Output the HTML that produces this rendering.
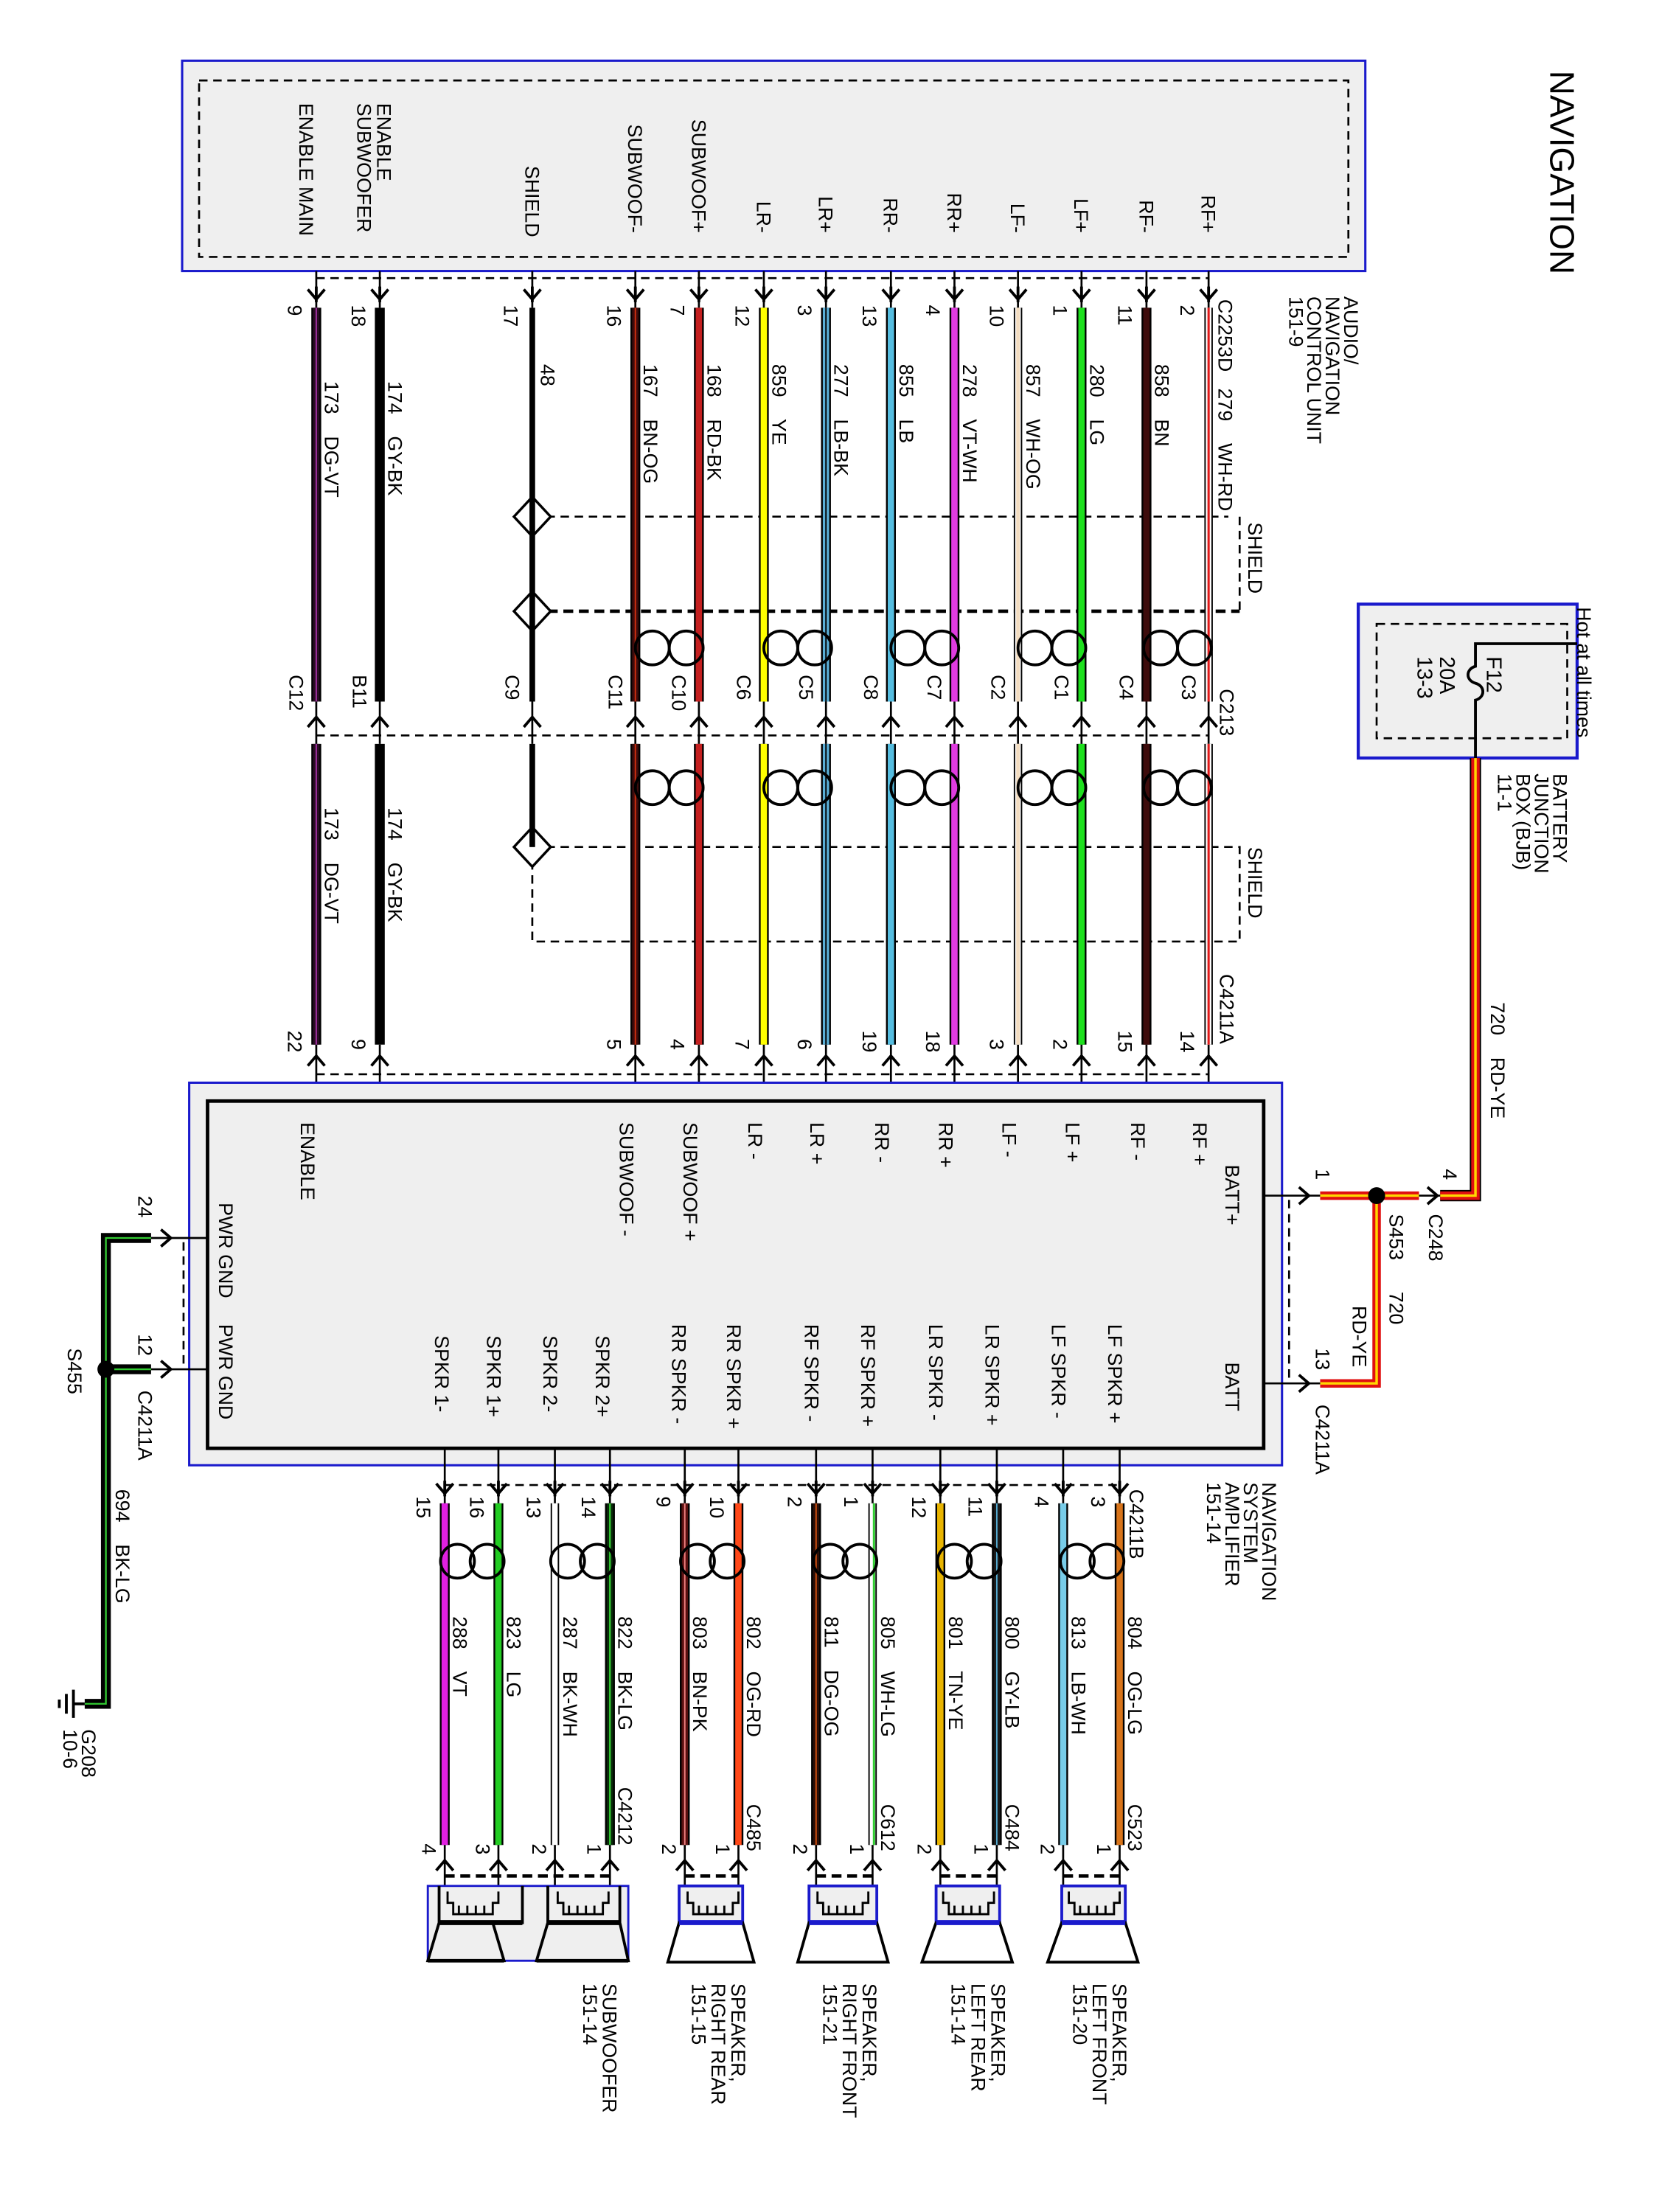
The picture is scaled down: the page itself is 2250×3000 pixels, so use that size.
<!DOCTYPE html>
<html><head><meta charset="utf-8"><style>
html,body{margin:0;padding:0;background:#fff}
svg{display:block}
text{font-family:"Liberation Sans",sans-serif;font-size:14px;fill:#000;white-space:pre}
.k{stroke:#000;stroke-width:1.4;fill:none}
.d{stroke:#000;stroke-width:1.4;fill:none;stroke-dasharray:6 4}
.dd{stroke:#000;stroke-width:2.4;fill:none;stroke-dasharray:7 4}
.c{stroke:#000;stroke-width:2;fill:none}
</style></head><body>
<svg width="2250" height="3000" viewBox="0 0 1175 1567" preserveAspectRatio="none" xmlns="http://www.w3.org/2000/svg">
<defs>
<path id="dn" d="M-6,-7 L0,0 L6,-7 M0,-9 L0,2" stroke="#000" stroke-width="2" fill="none"/>
<path id="up" d="M-6,7 L0,0 L6,7" stroke="#000" stroke-width="2" fill="none"/>
</defs>

<text transform="translate(1098,50) rotate(90)" style="font-size:24px">NAVIGATION</text>

<rect x="129" y="43" width="838" height="149" fill="#efefef" stroke="#1a1acc" stroke-width="1.6"/>
<rect x="141" y="57" width="814" height="125" class="d"/>
<g>
<text transform="translate(851,165) rotate(90)" text-anchor="end">RF+</text>
<text transform="translate(807,165) rotate(90)" text-anchor="end">RF-</text>
<text transform="translate(761,165) rotate(90)" text-anchor="end">LF+</text>
<text transform="translate(716,165) rotate(90)" text-anchor="end">LF-</text>
<text transform="translate(671,165) rotate(90)" text-anchor="end">RR+</text>
<text transform="translate(626,165) rotate(90)" text-anchor="end">RR-</text>
<text transform="translate(580,165) rotate(90)" text-anchor="end">LR+</text>
<text transform="translate(536,165) rotate(90)" text-anchor="end">LR-</text>
<text transform="translate(490,165) rotate(90)" text-anchor="end">SUBWOOF+</text>
<text transform="translate(445,165) rotate(90)" text-anchor="end">SUBWOOF-</text>
<text transform="translate(372,168) rotate(90)" text-anchor="end">SHIELD</text>
<text transform="translate(267,73) rotate(90)">ENABLE</text>
<text transform="translate(253,73) rotate(90)">SUBWOOFER</text>
<text transform="translate(212,73) rotate(90)">ENABLE MAIN</text>
</g>
<text transform="translate(952,210) rotate(90)">AUDIO/</text>
<text transform="translate(939,210) rotate(90)">NAVIGATION</text>
<text transform="translate(926,210) rotate(90)">CONTROL UNIT</text>
<text transform="translate(913,210) rotate(90)">151-9</text>

<line x1="224" y1="197" x2="856" y2="197" class="d"/>
<line x1="224" y1="521" x2="856" y2="521" class="d"/>
<line x1="224" y1="761" x2="856" y2="761" class="d"/>

<path d="M377,366 H870 M878,366 V432" class="d"/>
<line x1="377" y1="433" x2="878" y2="433" class="dd"/>
<line x1="377" y1="378" x2="377" y2="422" class="d"/>
<path d="M377,600 H878 V667 H377 V612" class="d"/>
<path d="M377,352 L390,366 L377,380 L364,366 Z M377,419 L390,433 L377,447 L364,433 Z M377,586 L390,600 L377,614 L364,600 Z" fill="#fff" stroke="#000" stroke-width="1.8"/>
<line x1="377" y1="352" x2="377" y2="447" stroke="#000" stroke-width="3"/>
<line x1="377" y1="586" x2="377" y2="600" stroke="#000" stroke-width="3"/>
<text transform="translate(884,370) rotate(90)">SHIELD</text>
<text transform="translate(884,600) rotate(90)">SHIELD</text>

<g>
<g class="k">
<path d="M856,192V218M812,192V218M766,192V218M721,192V218M676,192V218M631,192V218M585,192V218M541,192V218M495,192V218M450,192V218M377,192V218M269,192V218M224,192V218"/>
<path d="M856,497V527M812,497V527M766,497V527M721,497V527M676,497V527M631,497V527M585,497V527M541,497V527M495,497V527M450,497V527M377,497V527M269,497V527M224,497V527"/>
<path d="M856,740V781M812,740V781M766,740V781M721,740V781M676,740V781M631,740V781M585,740V781M541,740V781M495,740V781M450,740V781M269,740V781M224,740V781"/>
</g>
<use href="#dn" x="856" y="212"/><use href="#dn" x="812" y="212"/><use href="#dn" x="766" y="212"/><use href="#dn" x="721" y="212"/><use href="#dn" x="676" y="212"/><use href="#dn" x="631" y="212"/><use href="#dn" x="585" y="212"/><use href="#dn" x="541" y="212"/><use href="#dn" x="495" y="212"/><use href="#dn" x="450" y="212"/><use href="#dn" x="377" y="212"/><use href="#dn" x="269" y="212"/><use href="#dn" x="224" y="212"/>
<use href="#up" x="856" y="508"/><use href="#up" x="812" y="508"/><use href="#up" x="766" y="508"/><use href="#up" x="721" y="508"/><use href="#up" x="676" y="508"/><use href="#up" x="631" y="508"/><use href="#up" x="585" y="508"/><use href="#up" x="541" y="508"/><use href="#up" x="495" y="508"/><use href="#up" x="450" y="508"/><use href="#up" x="377" y="508"/><use href="#up" x="269" y="508"/><use href="#up" x="224" y="508"/>
<use href="#up" x="856" y="748"/><use href="#up" x="812" y="748"/><use href="#up" x="766" y="748"/><use href="#up" x="721" y="748"/><use href="#up" x="676" y="748"/><use href="#up" x="631" y="748"/><use href="#up" x="585" y="748"/><use href="#up" x="541" y="748"/><use href="#up" x="495" y="748"/><use href="#up" x="450" y="748"/><use href="#up" x="269" y="748"/><use href="#up" x="224" y="748"/>

<g stroke="#000" stroke-width="7">
<path d="M812,218V497M812,527V740M766,218V497M766,527V740M676,218V497M676,527V740M631,218V497M631,527V740M585,218V497M585,527V740M541,218V497M541,527V740M495,218V497M495,527V740M450,218V497M450,527V740M269,218V497M269,527V740M224,218V497M224,527V740"/>
</g>
<g stroke="#000" stroke-width="6"><path d="M856,218V497M856,527V740M721,218V497M721,527V740"/></g>
<path d="M377,218V497M377,527V600" stroke="#000" stroke-width="4"/>
<g stroke-width="4.5">
<path d="M856,218V497M856,527V740M721,218V497M721,527V740" stroke="#fff" stroke-width="4"/>
<path d="M856,218V497M856,527V740" stroke="#e01818" stroke-width="1.6"/>
<path d="M721,218V497M721,527V740" stroke="#f2dcc0" stroke-width="2.5"/>
<path d="M812,218V497M812,527V740" stroke="#3e0c0c"/>
<path d="M766,218V497M766,527V740" stroke="#1ee01e"/>
<path d="M676,218V497M676,527V740" stroke="#e03ce0"/>
<path d="M631,218V497M631,527V740" stroke="#55bde0"/>
<path d="M585,218V497M585,527V740" stroke="#5aaed6"/>
<path d="M585,218V497M585,527V740" stroke="#000" stroke-width="1"/>
<path d="M541,218V497M541,527V740" stroke="#ffff00"/>
<path d="M495,218V497M495,527V740" stroke="#c42020"/>
<path d="M450,218V497M450,527V740" stroke="#3e0c0c"/>
<path d="M450,218V497M450,527V740" stroke="#d03010" stroke-width="1"/>
<path d="M224,218V497M224,527V740" stroke="#2a0c24"/>
<path d="M224,218V497M224,527V740" stroke="#a030a0" stroke-width="1"/>
</g>
</g>

<g class="c">
<circle cx="822" cy="459" r="12"/><circle cx="846" cy="459" r="12"/>
<circle cx="733" cy="459" r="12"/><circle cx="757" cy="459" r="12"/>
<circle cx="643" cy="459" r="12"/><circle cx="667" cy="459" r="12"/>
<circle cx="553" cy="459" r="12"/><circle cx="577" cy="459" r="12"/>
<circle cx="462" cy="459" r="12"/><circle cx="486" cy="459" r="12"/>
<circle cx="822" cy="558" r="12"/><circle cx="846" cy="558" r="12"/>
<circle cx="733" cy="558" r="12"/><circle cx="757" cy="558" r="12"/>
<circle cx="643" cy="558" r="12"/><circle cx="667" cy="558" r="12"/>
<circle cx="553" cy="558" r="12"/><circle cx="577" cy="558" r="12"/>
<circle cx="462" cy="558" r="12"/><circle cx="486" cy="558" r="12"/>
</g>

<g>
<text transform="translate(836,216) rotate(90)">2</text>
<text transform="translate(792,216) rotate(90)">11</text>
<text transform="translate(746,216) rotate(90)">1</text>
<text transform="translate(701,216) rotate(90)">10</text>
<text transform="translate(656,216) rotate(90)">4</text>
<text transform="translate(611,216) rotate(90)">13</text>
<text transform="translate(565,216) rotate(90)">3</text>
<text transform="translate(521,216) rotate(90)">12</text>
<text transform="translate(475,216) rotate(90)">7</text>
<text transform="translate(430,216) rotate(90)">16</text>
<text transform="translate(357,216) rotate(90)">17</text>
<text transform="translate(249,216) rotate(90)">18</text>
<text transform="translate(204,216) rotate(90)">9</text>
</g>
<g>
<text transform="translate(863,212) rotate(90)">C2253D   279    WH-RD</text>
<text transform="translate(818,258) rotate(90)">858    BN</text>
<text transform="translate(772,258) rotate(90)">280    LG</text>
<text transform="translate(727,258) rotate(90)">857    WH-OG</text>
<text transform="translate(682,258) rotate(90)">278    VT-WH</text>
<text transform="translate(637,258) rotate(90)">855    LB</text>
<text transform="translate(591,258) rotate(90)">277    LB-BK</text>
<text transform="translate(547,258) rotate(90)">859    YE</text>
<text transform="translate(501,258) rotate(90)">168    RD-BK</text>
<text transform="translate(456,258) rotate(90)">167    BN-OG</text>
<text transform="translate(383,258) rotate(90)">48</text>
<text transform="translate(275,270) rotate(90)">174    GY-BK</text>
<text transform="translate(230,270) rotate(90)">173    DG-VT</text>
<text transform="translate(275,572) rotate(90)">174    GY-BK</text>
<text transform="translate(230,572) rotate(90)">173    DG-VT</text>
</g>
<g>
<text transform="translate(864,488) rotate(90)">C213</text>
<text transform="translate(837,478) rotate(90)">C3</text>
<text transform="translate(793,478) rotate(90)">C4</text>
<text transform="translate(747,478) rotate(90)">C1</text>
<text transform="translate(702,478) rotate(90)">C2</text>
<text transform="translate(657,478) rotate(90)">C7</text>
<text transform="translate(612,478) rotate(90)">C8</text>
<text transform="translate(566,478) rotate(90)">C5</text>
<text transform="translate(522,478) rotate(90)">C6</text>
<text transform="translate(476,478) rotate(90)">C10</text>
<text transform="translate(431,478) rotate(90)">C11</text>
<text transform="translate(358,478) rotate(90)">C9</text>
<text transform="translate(250,478) rotate(90)">B11</text>
<text transform="translate(205,478) rotate(90)">C12</text>
</g>
<g>
<text transform="translate(864,690) rotate(90)">C4211A</text>
<text transform="translate(836,730) rotate(90)">14</text>
<text transform="translate(792,730) rotate(90)">15</text>
<text transform="translate(746,736) rotate(90)">2</text>
<text transform="translate(701,736) rotate(90)">3</text>
<text transform="translate(656,730) rotate(90)">18</text>
<text transform="translate(611,730) rotate(90)">19</text>
<text transform="translate(565,736) rotate(90)">6</text>
<text transform="translate(521,736) rotate(90)">7</text>
<text transform="translate(475,736) rotate(90)">4</text>
<text transform="translate(430,736) rotate(90)">5</text>
<text transform="translate(249,736) rotate(90)">9</text>
<text transform="translate(204,730) rotate(90)">22</text>
</g>

<rect x="134" y="767" width="774" height="271" fill="#efefef" stroke="#1a1acc" stroke-width="1.6"/>
<rect x="147" y="780" width="748" height="246" fill="#efefef" stroke="#000" stroke-width="2.5"/>
<g>
<text transform="translate(845,795) rotate(90)">RF +</text>
<text transform="translate(801,795) rotate(90)">RF -</text>
<text transform="translate(755,795) rotate(90)">LF +</text>
<text transform="translate(710,795) rotate(90)">LF -</text>
<text transform="translate(665,795) rotate(90)">RR +</text>
<text transform="translate(620,795) rotate(90)">RR -</text>
<text transform="translate(574,795) rotate(90)">LR +</text>
<text transform="translate(530,795) rotate(90)">LR -</text>
<text transform="translate(484,795) rotate(90)">SUBWOOF +</text>
<text transform="translate(439,795) rotate(90)">SUBWOOF -</text>
<text transform="translate(213,795) rotate(90)">ENABLE</text>
<text transform="translate(868,825) rotate(90)">BATT+</text>
<text transform="translate(868,965) rotate(90)">BATT</text>
<text transform="translate(155,852) rotate(90)">PWR GND</text>
<text transform="translate(155,938) rotate(90)">PWR GND</text>
<text transform="translate(785,938) rotate(90)">LF SPKR +</text>
<text transform="translate(745,938) rotate(90)">LF SPKR -</text>
<text transform="translate(698,938) rotate(90)">LR SPKR +</text>
<text transform="translate(658,938) rotate(90)">LR SPKR -</text>
<text transform="translate(610,938) rotate(90)">RF SPKR +</text>
<text transform="translate(570,938) rotate(90)">RF SPKR -</text>
<text transform="translate(515,938) rotate(90)">RR SPKR +</text>
<text transform="translate(476,938) rotate(90)">RR SPKR -</text>
<text transform="translate(422,946) rotate(90)">SPKR 2+</text>
<text transform="translate(385,946) rotate(90)">SPKR 2-</text>
<text transform="translate(345,946) rotate(90)">SPKR 1+</text>
<text transform="translate(308,946) rotate(90)">SPKR 1-</text>
</g>

<line x1="315" y1="1052" x2="793" y2="1052" class="d"/>
<path class="k" d="M793,1026V1065M753,1026V1065M706,1026V1065M666,1026V1065M618,1026V1065M578,1026V1065M523,1026V1065M485,1026V1065M432,1026V1065M393,1026V1065M353,1026V1065M315,1026V1065"/>
<use href="#dn" x="793" y="1058"/><use href="#dn" x="753" y="1058"/><use href="#dn" x="706" y="1058"/><use href="#dn" x="666" y="1058"/><use href="#dn" x="618" y="1058"/><use href="#dn" x="578" y="1058"/><use href="#dn" x="523" y="1058"/><use href="#dn" x="485" y="1058"/><use href="#dn" x="432" y="1058"/><use href="#dn" x="393" y="1058"/><use href="#dn" x="353" y="1058"/><use href="#dn" x="315" y="1058"/>
<path stroke="#000" stroke-width="7" d="M793,1065V1307M753,1065V1307M706,1065V1307M666,1065V1307M578,1065V1307M523,1065V1307M485,1065V1307M432,1065V1307M353,1065V1307M315,1065V1307"/>
<path stroke="#000" stroke-width="6" d="M618,1065V1307M393,1065V1307"/>
<path stroke="#fff" stroke-width="4" d="M618,1065V1307M393,1065V1307"/>
<path stroke="#33cc33" stroke-width="1.6" d="M619,1065V1307"/>
<g stroke-width="4.5">
<path d="M793,1065V1307" stroke="#d8741a"/>
<path d="M753,1065V1307" stroke="#78cce8"/>
<path d="M706,1065V1307" stroke="#1a1a1a"/>
<path d="M706,1065V1307" stroke="#55aad0" stroke-width="1"/>
<path d="M666,1065V1307" stroke="#e8b400"/>
<path d="M578,1065V1307" stroke="#2a0e08"/>
<path d="M578,1065V1307" stroke="#d05010" stroke-width="1"/>
<path d="M523,1065V1307" stroke="#ff4818"/>
<path d="M485,1065V1307" stroke="#5a1010"/>
<path d="M485,1065V1307" stroke="#f08080" stroke-width="1"/>
<path d="M432,1065V1307" stroke="#0a2a0a"/>
<path d="M432,1065V1307" stroke="#33cc33" stroke-width="1.2"/>
<path d="M353,1065V1307" stroke="#22cc22"/>
<path d="M315,1065V1307" stroke="#e020e0"/>
</g>
<g class="c">
<circle cx="763" cy="1106" r="12"/><circle cx="784" cy="1106" r="12"/>
<circle cx="676" cy="1106" r="12"/><circle cx="697" cy="1106" r="12"/>
<circle cx="588" cy="1106" r="12"/><circle cx="609" cy="1106" r="12"/>
<circle cx="494" cy="1106" r="12"/><circle cx="515" cy="1106" r="12"/>
<circle cx="402" cy="1106" r="12"/><circle cx="423" cy="1106" r="12"/>
<circle cx="324" cy="1106" r="12"/><circle cx="345" cy="1106" r="12"/>
</g>
<g>
<text transform="translate(800,1055) rotate(90)">C4211B</text>
<text transform="translate(773,1060) rotate(90)">3</text>
<text transform="translate(733,1060) rotate(90)">4</text>
<text transform="translate(686,1060) rotate(90)">11</text>
<text transform="translate(646,1060) rotate(90)">12</text>
<text transform="translate(598,1060) rotate(90)">1</text>
<text transform="translate(558,1060) rotate(90)">2</text>
<text transform="translate(503,1060) rotate(90)">10</text>
<text transform="translate(465,1060) rotate(90)">9</text>
<text transform="translate(412,1060) rotate(90)">14</text>
<text transform="translate(373,1060) rotate(90)">13</text>
<text transform="translate(333,1060) rotate(90)">16</text>
<text transform="translate(295,1060) rotate(90)">15</text>
</g>
<g>
<text transform="translate(799,1145) rotate(90)">804    OG-LG</text>
<text transform="translate(759,1145) rotate(90)">813    LB-WH</text>
<text transform="translate(712,1145) rotate(90)">800    GY-LB</text>
<text transform="translate(672,1145) rotate(90)">801    TN-YE</text>
<text transform="translate(624,1145) rotate(90)">805    WH-LG</text>
<text transform="translate(584,1145) rotate(90)">811    DG-OG</text>
<text transform="translate(529,1145) rotate(90)">802    OG-RD</text>
<text transform="translate(491,1145) rotate(90)">803    BN-PK</text>
<text transform="translate(438,1145) rotate(90)">822    BK-LG</text>
<text transform="translate(399,1145) rotate(90)">287    BK-WH</text>
<text transform="translate(359,1145) rotate(90)">823    LG</text>
<text transform="translate(321,1145) rotate(90)">288    VT</text>
</g>
<g>
<text transform="translate(799,1278) rotate(90)">C523</text>
<text transform="translate(712,1278) rotate(90)">C484</text>
<text transform="translate(624,1278) rotate(90)">C612</text>
<text transform="translate(529,1278) rotate(90)">C485</text>
<text transform="translate(438,1266) rotate(90)">C4212</text>
<text transform="translate(777,1306) rotate(90)">1</text>
<text transform="translate(737,1306) rotate(90)">2</text>
<text transform="translate(690,1306) rotate(90)">1</text>
<text transform="translate(650,1306) rotate(90)">2</text>
<text transform="translate(602,1306) rotate(90)">1</text>
<text transform="translate(562,1306) rotate(90)">2</text>
<text transform="translate(507,1306) rotate(90)">1</text>
<text transform="translate(469,1306) rotate(90)">2</text>
<text transform="translate(416,1306) rotate(90)">1</text>
<text transform="translate(377,1306) rotate(90)">2</text>
<text transform="translate(337,1306) rotate(90)">3</text>
<text transform="translate(299,1306) rotate(90)">4</text>
</g>
<path class="k" d="M793,1307V1350M753,1307V1350M706,1307V1350M666,1307V1350M618,1307V1350M578,1307V1350M523,1307V1350M485,1307V1350M432,1307V1350M393,1307V1350M353,1307V1350M315,1307V1350"/>
<use href="#up" x="793" y="1318"/><use href="#up" x="753" y="1318"/><use href="#up" x="706" y="1318"/><use href="#up" x="666" y="1318"/><use href="#up" x="618" y="1318"/><use href="#up" x="578" y="1318"/><use href="#up" x="523" y="1318"/><use href="#up" x="485" y="1318"/><use href="#up" x="432" y="1318"/><use href="#up" x="393" y="1318"/><use href="#up" x="353" y="1318"/><use href="#up" x="315" y="1318"/>
<g class="dd">
<path d="M753,1329H793M666,1329H706M578,1329H618M485,1329H523M315,1329H432"/>
</g>
<g stroke="#000" stroke-width="2" fill="#efefef">
<rect x="752" y="1336" width="45" height="26" stroke="#1a1acc"/>
<rect x="663" y="1336" width="45" height="26" stroke="#1a1acc"/>
<rect x="573" y="1336" width="48" height="26" stroke="#1a1acc"/>
<rect x="481" y="1336" width="45" height="26" stroke="#1a1acc"/>
<rect x="303" y="1336" width="142" height="53" stroke="#1a1acc" stroke-width="1.5"/>
<path d="M752,1362H797L806,1390H742Z M663,1362H708L717,1390H653Z M573,1362H621L629,1390H565Z M481,1362H526L534,1390H473Z" fill="#fff"/>
<path d="M752,1362H797M663,1362H708M573,1362H621M481,1362H526" stroke="#1a1acc" stroke-width="3.5"/>
<path d="M311,1336V1362H370V1336 M311,1362L303,1389H357L349,1362 M388,1336V1362H439V1336 M388,1362L380,1389H445L439,1362" fill="none"/>
<path d="M311,1362H370M388,1362H439" stroke-width="3.5"/>
<path d="M303,1389H357M380,1389H445" stroke-width="2.5"/>
</g>
<g stroke="#000" stroke-width="1.5" fill="none">
<path d="M757,1340V1348H761V1356H789V1348H793V1340 M765,1350v6M771,1350v6M777,1350v6M783,1350v6"/>
<path d="M668,1340V1348H672V1356H700V1348H704V1340 M676,1350v6M682,1350v6M688,1350v6M694,1350v6"/>
<path d="M579,1340V1348H583V1356H611V1348H615V1340 M587,1350v6M593,1350v6M599,1350v6M605,1350v6"/>
<path d="M487,1340V1348H491V1356H519V1348H523V1340 M495,1350v6M501,1350v6M507,1350v6M513,1350v6"/>
<path d="M317,1340V1348H321V1356H349V1348H353V1340 M325,1350v6M331,1350v6M337,1350v6M343,1350v6"/>
<path d="M395,1340V1348H399V1356H427V1348H431V1340 M403,1350v6M409,1350v6M415,1350v6M421,1350v6"/>
</g>
<g style="font-size:14px">
<text transform="translate(788,1405) rotate(90)">SPEAKER,</text>
<text transform="translate(774,1405) rotate(90)">LEFT FRONT</text>
<text transform="translate(760,1405) rotate(90)">151-20</text>
<text transform="translate(702,1405) rotate(90)">SPEAKER,</text>
<text transform="translate(688,1405) rotate(90)">LEFT REAR</text>
<text transform="translate(674,1405) rotate(90)">151-14</text>
<text transform="translate(611,1405) rotate(90)">SPEAKER,</text>
<text transform="translate(597,1405) rotate(90)">RIGHT FRONT</text>
<text transform="translate(583,1405) rotate(90)">151-21</text>
<text transform="translate(518,1405) rotate(90)">SPEAKER,</text>
<text transform="translate(504,1405) rotate(90)">RIGHT REAR</text>
<text transform="translate(490,1405) rotate(90)">151-15</text>
<text transform="translate(427,1405) rotate(90)">SUBWOOFER</text>
<text transform="translate(413,1405) rotate(90)">151-14</text>
</g>
<g>
<text transform="translate(894,1050) rotate(90)">NAVIGATION</text>
<text transform="translate(881,1050) rotate(90)">SYSTEM</text>
<text transform="translate(868,1050) rotate(90)">AMPLIFIER</text>
<text transform="translate(855,1050) rotate(90)">151-14</text>
</g>

<rect x="962" y="428" width="155" height="109" fill="#efefef" stroke="#1a1acc" stroke-width="2.2"/>
<rect x="975" y="442" width="135" height="81" class="d"/>
<text transform="translate(1117,430) rotate(90)">Hot at all times</text>
<text transform="translate(1053,465) rotate(90)" style="font-size:15px">F12</text>
<text transform="translate(1020,465) rotate(90)" style="font-size:15px">20A</text>
<text transform="translate(1004,465) rotate(90)" style="font-size:15px">13-3</text>
<path d="M1117,456H1045V472 C1038,474 1038,482 1045,484 C1052,486 1052,494 1045,496 V537" class="c"/>
<text transform="translate(1100,548) rotate(90)">BATTERY</text>
<text transform="translate(1087,548) rotate(90)">JUNCTION</text>
<text transform="translate(1074,548) rotate(90)">BOX (BJB)</text>
<text transform="translate(1061,548) rotate(90)">11-1</text>
<g fill="none">
<path d="M1045,537V847H1020" stroke="#000" stroke-width="8"/>
<path d="M1045,537V847H1020" stroke="#e01010" stroke-width="6"/>
<path d="M1045,537V847H1020" stroke="#ffd800" stroke-width="1.8"/>
<path d="M1005,847H935 M975,847V980H935" stroke="#e01010" stroke-width="6"/>
<path d="M1005,847H935 M975,847V980H935" stroke="#ffd800" stroke-width="1.8"/>
</g>
<path class="k" d="M1020,847H1005 M935,847H895 M935,980H895"/>
<path d="M1011,841L1018,847L1011,853" class="c"/>
<path d="M920,841L927,847L920,853 M920,974L927,980L920,986" class="c"/>
<circle cx="975" cy="847" r="6" fill="#000"/>
<line x1="913" y1="850" x2="913" y2="978" class="d"/>
<text transform="translate(1056,710) rotate(90)">720    RD-YE</text>
<text transform="translate(1022,828) rotate(90)">4</text>
<text transform="translate(1012,860) rotate(90)">C248</text>
<text transform="translate(984,860) rotate(90)">S453</text>
<text transform="translate(984,915) rotate(90)">720</text>
<text transform="translate(958,925) rotate(90)">RD-YE</text>
<text transform="translate(932,828) rotate(90)">1</text>
<text transform="translate(932,955) rotate(90)">13</text>
<text transform="translate(932,995) rotate(90)">C4211A</text>

<g fill="none">
<path d="M107,877H75V1207H60 M75,970H107" stroke="#000" stroke-width="7"/>
<path d="M107,877H75V1207H60 M75,970H107" stroke="#33cc33" stroke-width="1.2"/>
</g>
<path class="k" d="M147,877H107 M147,970H107"/>
<path d="M114,871L121,877L114,883 M114,964L121,970L114,976" class="c"/>
<line x1="130" y1="880" x2="130" y2="968" class="d"/>
<circle cx="75" cy="970" r="6" fill="#000"/>
<path d="M60,1207H52 M52,1197V1217 M47,1200V1214 M42,1204V1210" class="c"/>
<text transform="translate(98,847) rotate(90)">24</text>
<text transform="translate(98,945) rotate(90)">12</text>
<text transform="translate(98,985) rotate(90)">C4211A</text>
<text transform="translate(48,955) rotate(90)">S455</text>
<text transform="translate(82,1055) rotate(90)">694    BK-LG</text>
<text transform="translate(58,1225) rotate(90)">G208</text>
<text transform="translate(45,1225) rotate(90)">10-6</text>
</svg>
</body></html>
